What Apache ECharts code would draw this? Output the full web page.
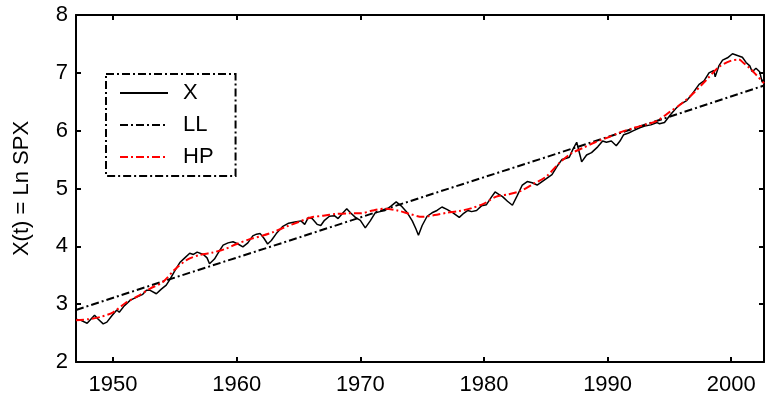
<!DOCTYPE html>
<html>
<head>
<meta charset="utf-8">
<script src="https://cdn.jsdelivr.net/npm/echarts@6/dist/echarts.min.js"></script>
<style>
  html, body { margin: 0; padding: 0; background: #fff; }
  #chart { width: 769px; height: 400px; }
</style>
</head>
<body>
<div id="chart"></div>
<script>
// tick labels
const xTicks = [1950, 1960, 1970, 1980, 1990, 2000]
const yTicks = [2, 3, 4, 5, 6, 7, 8]

// X: ln of S&P index
const xSeries = [
  [1947.0, 2.74], [1947.4, 2.72], [1947.9, 2.67], [1948.2, 2.74], [1948.5, 2.81], [1948.8, 2.74],
  [1949.2, 2.66], [1949.5, 2.69], [1949.9, 2.80], [1950.3, 2.90], [1950.5, 2.86], [1950.9, 2.97],
  [1951.4, 3.07], [1951.7, 3.10], [1952.0, 3.13], [1952.4, 3.17], [1952.7, 3.24], [1953.0, 3.24],
  [1953.5, 3.18], [1953.9, 3.26], [1954.3, 3.33], [1954.6, 3.43], [1955.0, 3.58], [1955.4, 3.72],
  [1955.8, 3.80], [1956.2, 3.88], [1956.5, 3.86], [1956.8, 3.90], [1957.3, 3.86], [1957.6, 3.80],
  [1957.8, 3.70], [1958.2, 3.78], [1958.6, 3.92], [1958.9, 4.02], [1959.3, 4.06], [1959.7, 4.08],
  [1960.1, 4.04], [1960.5, 3.99], [1960.9, 4.06], [1961.3, 4.18], [1961.6, 4.21], [1961.9, 4.22],
  [1962.2, 4.14], [1962.5, 4.04], [1962.8, 4.10], [1963.2, 4.22], [1963.7, 4.34], [1964.2, 4.40],
  [1964.7, 4.42], [1965.2, 4.44], [1965.5, 4.38], [1965.8, 4.50], [1966.1, 4.48], [1966.5, 4.38],
  [1966.8, 4.36], [1967.1, 4.45], [1967.5, 4.52], [1967.9, 4.53], [1968.2, 4.48], [1968.6, 4.58],
  [1968.9, 4.65], [1969.2, 4.58], [1969.6, 4.50], [1970.0, 4.45], [1970.4, 4.32], [1970.8, 4.44],
  [1971.2, 4.58], [1971.6, 4.60], [1972.0, 4.62], [1972.5, 4.70], [1972.9, 4.77], [1973.3, 4.70],
  [1973.8, 4.58], [1974.2, 4.44], [1974.5, 4.30], [1974.7, 4.19], [1975.0, 4.36], [1975.4, 4.52],
  [1975.8, 4.58], [1976.2, 4.62], [1976.6, 4.68], [1977.0, 4.64], [1977.5, 4.58], [1978.0, 4.50],
  [1978.3, 4.56], [1978.7, 4.62], [1979.0, 4.60], [1979.4, 4.62], [1979.8, 4.70], [1980.2, 4.72],
  [1980.6, 4.85], [1980.9, 4.94], [1981.2, 4.90], [1981.5, 4.86], [1981.9, 4.78], [1982.3, 4.71],
  [1982.7, 4.88], [1983.1, 5.06], [1983.5, 5.12], [1983.9, 5.10], [1984.3, 5.06], [1984.7, 5.12],
  [1985.1, 5.18], [1985.5, 5.24], [1985.9, 5.38], [1986.3, 5.50], [1986.6, 5.52], [1986.9, 5.54],
  [1987.2, 5.68], [1987.5, 5.80], [1987.8, 5.55], [1987.9, 5.46], [1988.3, 5.58], [1988.7, 5.62],
  [1989.2, 5.72], [1989.6, 5.82], [1989.9, 5.80], [1990.3, 5.82], [1990.7, 5.74], [1991.0, 5.82],
  [1991.3, 5.93], [1991.7, 5.96], [1992.1, 6.00], [1992.6, 6.05], [1993.0, 6.08], [1993.5, 6.10],
  [1994.0, 6.14], [1994.2, 6.12], [1994.6, 6.14], [1995.1, 6.28], [1995.5, 6.38], [1995.9, 6.46],
  [1996.4, 6.52], [1996.8, 6.62], [1997.4, 6.80], [1997.8, 6.86], [1998.2, 7.00], [1998.6, 7.04],
  [1998.7, 6.93], [1999.0, 7.12], [1999.3, 7.22], [1999.7, 7.26], [2000.1, 7.33], [2000.5, 7.30],
  [2000.9, 7.27], [2001.2, 7.18], [2001.5, 7.12], [2001.7, 7.02], [2002.0, 7.08], [2002.3, 7.02],
  [2002.5, 6.84], [2002.65, 6.90]
]

// LL: linear trend
const llSeries = [
  [1947.0, 2.90], [1955.0, 3.46], [1965.0, 4.15], [1975.0, 4.85],
  [1985.0, 5.54], [1995.0, 6.24], [2002.65, 6.78]
]

// HP: Hodrick-Prescott trend
const hpSeries = [
  [1947.0, 2.72], [1948.0, 2.74], [1949.0, 2.78], [1950.0, 2.86], [1951.0, 3.02], [1952.0, 3.14],
  [1953.0, 3.27], [1954.0, 3.38], [1955.0, 3.60], [1956.0, 3.77], [1957.0, 3.85], [1958.0, 3.89],
  [1959.0, 3.95], [1960.0, 4.04], [1961.0, 4.12], [1962.0, 4.18], [1963.0, 4.25], [1964.0, 4.34],
  [1965.0, 4.42], [1966.0, 4.50], [1967.0, 4.53], [1968.0, 4.56], [1969.0, 4.57], [1970.0, 4.57],
  [1971.0, 4.62], [1972.0, 4.65], [1973.0, 4.62], [1974.0, 4.56], [1975.0, 4.51], [1976.0, 4.54],
  [1977.0, 4.58], [1978.0, 4.61], [1979.0, 4.66], [1980.0, 4.74], [1981.0, 4.86], [1982.0, 4.90],
  [1983.0, 4.96], [1984.0, 5.08], [1985.0, 5.20], [1986.0, 5.42], [1987.0, 5.60], [1988.0, 5.70],
  [1989.0, 5.80], [1990.0, 5.88], [1991.0, 5.97], [1992.0, 6.04], [1993.0, 6.10], [1994.0, 6.17],
  [1995.0, 6.32], [1996.0, 6.47], [1997.0, 6.66], [1998.0, 6.88], [1999.0, 7.10], [2000.0, 7.21],
  [2000.6, 7.23], [2001.0, 7.17], [2001.5, 7.08], [2002.0, 6.97], [2002.65, 6.82]
]

const FONT = 'Liberation Sans, Arial, sans-serif'
const dashDot = [8, 3, 2, 3]

const chart = echarts.init(document.getElementById('chart'))

const axisLine = { show: true, lineStyle: { color: '#000', width: 2 } }
const tick = { show: true, inside: true, length: 5, lineStyle: { color: '#000', width: 2 } }

chart.setOption({
  backgroundColor: '#fff',
  animation: false,
  textStyle: { fontFamily: FONT },
  grid: { left: 76, right: 5, top: 15, bottom: 38 },
  legend: {
    left: 106,
    top: 74,
    orient: 'vertical',
    backgroundColor: '#fff',
    borderColor: '#000',
    borderWidth: 2,
    borderType: dashDot,
    padding: [8, 22, 8, 13],
    itemWidth: 48,
    itemHeight: 14,
    itemGap: 10,
    itemStyle: { opacity: 0 },
    textStyle: { fontSize: 22, color: '#000', fontFamily: FONT, padding: [0, 0, 0, 10], lineHeight: 20 },
    data: ['X', 'LL', 'HP']
  },
  xAxis: [{
    type: 'value',
    min: 1947,
    max: 2002.65,
    axisLine: axisLine,
    axisTick: Object.assign({ customValues: xTicks }, tick),
    axisLabel: {
      customValues: xTicks,
      fontSize: 22,
      color: '#000',
      margin: 12,
      fontFamily: FONT,
      formatter: (v) => String(v)
    },
    splitLine: { show: false }
  }, {
    type: 'value',
    position: 'top',
    min: 1947,
    max: 2002.65,
    axisLine: axisLine,
    axisTick: Object.assign({ customValues: xTicks }, tick),
    axisLabel: { show: false, customValues: xTicks },
    splitLine: { show: false }
  }],
  yAxis: [{
    type: 'value',
    min: 2,
    max: 8,
    interval: 1,
    name: 'X(t) = Ln SPX',
    nameLocation: 'middle',
    nameRotate: 90,
    nameGap: 43,
    nameTextStyle: { fontSize: 22, color: '#000', fontFamily: FONT },
    axisLine: axisLine,
    axisTick: tick,
    axisLabel: { fontSize: 22, color: '#000', margin: 8, fontFamily: FONT },
    splitLine: { show: false }
  }, {
    type: 'value',
    position: 'right',
    min: 2,
    max: 8,
    interval: 1,
    axisLine: axisLine,
    axisTick: tick,
    axisLabel: { show: false },
    splitLine: { show: false }
  }],
  series: [{
    name: 'X',
    type: 'line',
    data: xSeries,
    symbol: 'none',
    lineStyle: { color: '#000', width: 1.5, type: 'solid' },
    itemStyle: { color: '#000' },
    z: 2
  }, {
    name: 'LL',
    type: 'line',
    data: llSeries,
    symbol: 'none',
    lineStyle: { color: '#000', width: 2, type: dashDot },
    itemStyle: { color: '#000' },
    z: 3
  }, {
    name: 'HP',
    type: 'line',
    data: hpSeries,
    symbol: 'none',
    smooth: 0.3,
    lineStyle: { color: '#ff0000', width: 2, type: dashDot },
    itemStyle: { color: '#ff0000' },
    z: 4
  }]
})
</script>
</body>
</html>
